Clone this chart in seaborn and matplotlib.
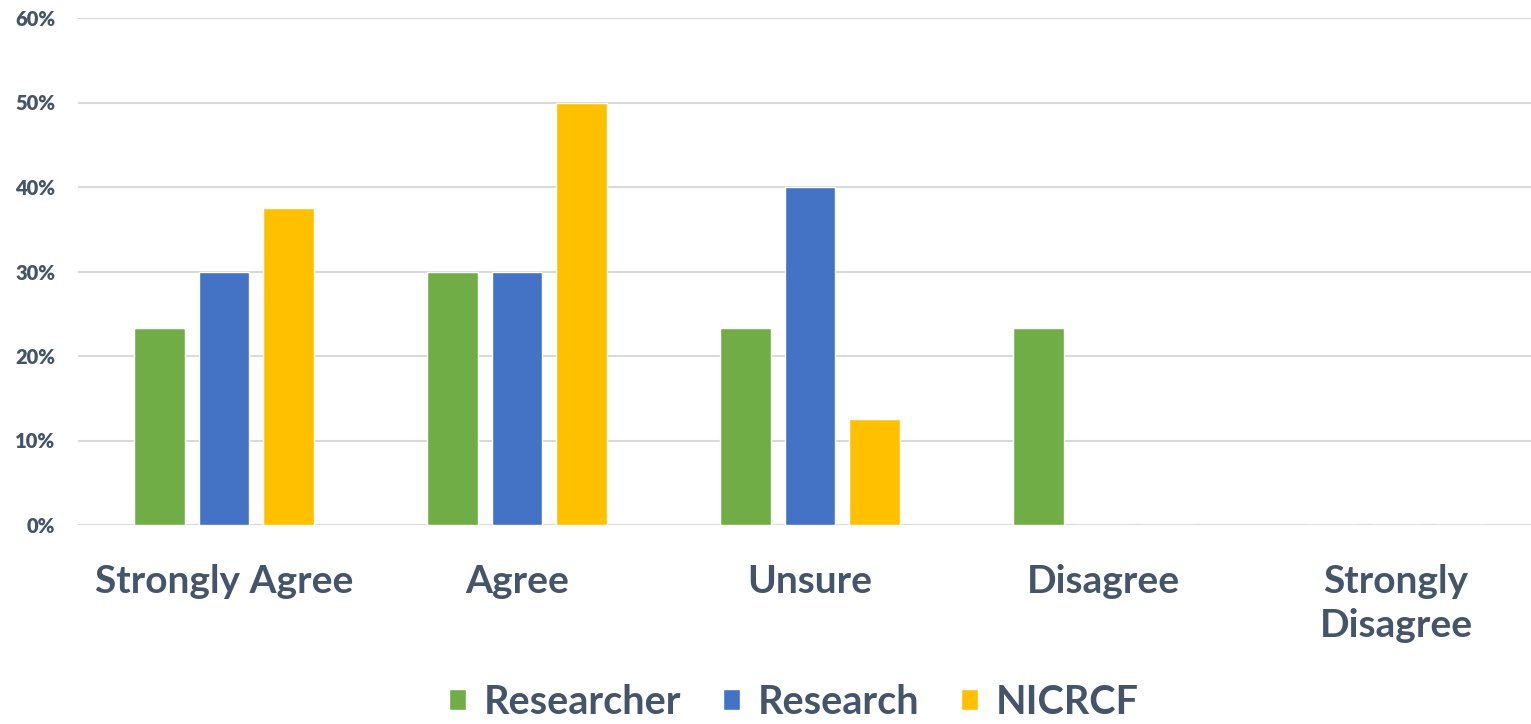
import matplotlib

matplotlib.use("Agg")
import matplotlib.pyplot as plt
import pandas as pd
import seaborn as sns
from matplotlib.ticker import PercentFormatter

# data
categories = ["Strongly Agree", "Agree", "Unsure", "Disagree", "Strongly\nDisagree"]
groups = ["Researcher", "Research", "NICRCF"]
researcher = [23.3, 30.0, 23.3, 23.3, 0.0]
research = [30.0, 30.0, 40.0, 0.0, 0.0]
nicrcf = [37.5, 50.0, 12.5, 0.0, 0.0]
colors = ["#70AD47", "#4472C4", "#FFC000"]
text_col = "#44546A"

df = pd.DataFrame(
    {
        "category": categories * 3,
        "group": [g for g in groups for _ in categories],
        "value": researcher + research + nicrcf,
    }
)

sns.set_theme(style="white")
plt.rcParams["font.family"] = ["Lato", "DejaVu Sans"]
plt.rcParams["font.weight"] = "bold"

W, H = 1531, 724
fig = plt.figure(figsize=(W / 100, H / 100), dpi=100)
# plot area runs a little past the right edge of the picture, as in the reference
ax = fig.add_axes([77.5 / W, 1 - 525 / H, 1465 / W, 507 / H])

sns.barplot(
    data=df, x="category", y="value", hue="group", order=categories, hue_order=groups,
    palette=colors, width=0.665, gap=0.215, saturation=1, ax=ax, legend=True,
)

ax.set_ylim(0, 60)
ax.set_yticks(range(0, 61, 10))
ax.yaxis.set_major_formatter(PercentFormatter(xmax=100, decimals=0))
ax.grid(axis="y", color="#D9D9D9", lw=1.5)
ax.set_axisbelow(True)
for s in ax.spines.values():
    s.set_visible(False)
ax.set_xlabel("")
ax.set_ylabel("")
ax.tick_params(axis="y", length=0, pad=16, labelsize=14.5, labelcolor=text_col)
ax.tick_params(axis="x", length=0, pad=28, labelsize=28, labelcolor=text_col)
for t in ax.get_yticklabels():
    t.set_fontweight("heavy")
for t in ax.get_xticklabels():
    t.set_fontweight("bold")
    t.set_linespacing(1.3)

h, l = ax.get_legend_handles_labels()
ax.legend(
    h, l, loc="center", bbox_to_anchor=(794 / W, 1 - 702 / H),
    bbox_transform=fig.transFigure, ncol=3, frameon=False, borderpad=0,
    handlelength=0.43, handleheight=0.43, handletextpad=0.45, columnspacing=1.05,
    labelcolor=text_col, prop={"weight": "bold", "size": 28.5},
)

fig.savefig("out.png", dpi=100)
